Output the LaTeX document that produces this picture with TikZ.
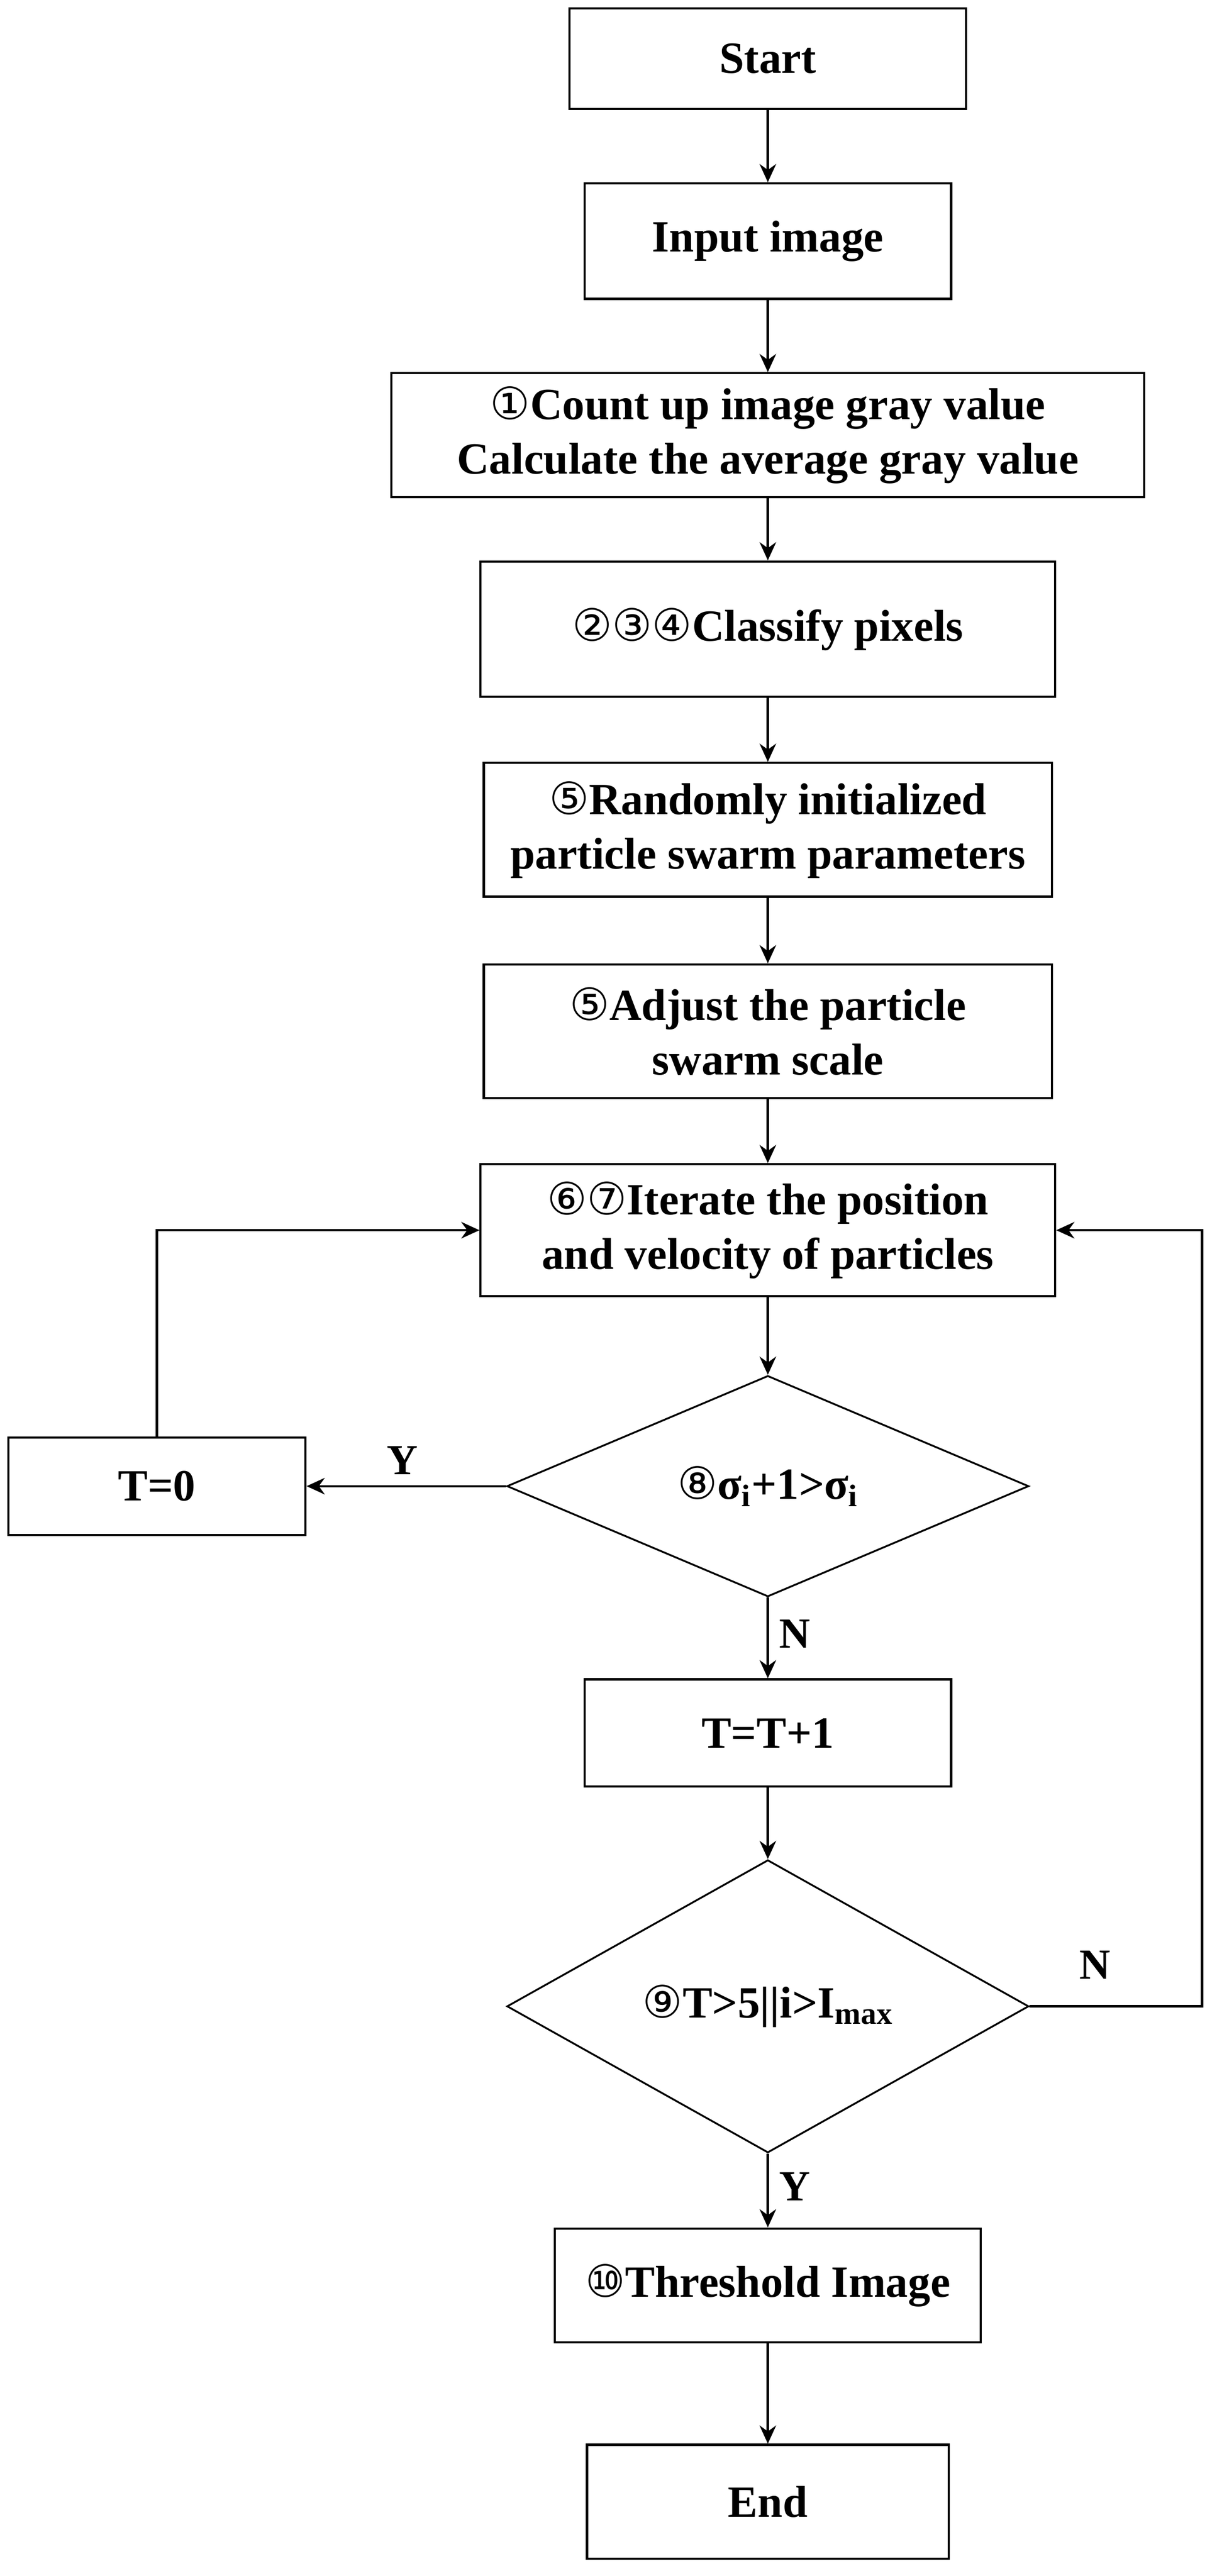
\documentclass[tikz,border=0pt]{standalone}
\usepackage{fontspec}
\setmainfont{Liberation Serif}
\newfontfamily\cfnt{DejaVu Sans}
\usetikzlibrary{shapes.geometric,arrows.meta}
\newcommand{\cn}[1]{{\cfnt\mdseries #1}}
\begin{document}
\begin{tikzpicture}[x=1pt,y=-1pt,
  every node/.style={font=\fontsize{27}{33}\selectfont\bfseries, align=center},
  box/.style={draw, line width=1.3pt, inner sep=0pt},
  dia/.style={draw, diamond, line width=1.1pt, inner sep=0pt},
  arr/.style={line width=1.4pt, -{Stealth[length=11pt,width=10pt]}},
  lbl/.style={font=\fontsize{26}{28}\selectfont\bfseries}]
\useasboundingbox (0,0) rectangle (737,1560);
\node[box, minimum width=240pt, minimum height=61pt] (start) at (465,35.5) {Start};
\node[box, minimum width=222pt, minimum height=70pt] (input) at (465,146) {Input image};
\node[box, minimum width=456pt, minimum height=75pt] (b1) at (465,263.5) {\cn{①}Count up image gray value\\Calculate the average gray value};
\node[box, minimum width=348pt, minimum height=82pt] (b2) at (465,381) {\cn{②③④}Classify pixels};
\node[box, minimum width=344pt, minimum height=81pt] (b3) at (465,502.5) {\cn{⑤}Randomly initialized\\particle swarm parameters};
\node[box, minimum width=344pt, minimum height=81pt] (b4) at (465,624.5) {\cn{⑤}Adjust the particle\\swarm scale};
\node[box, minimum width=348pt, minimum height=80pt] (b5) at (465,745) {\cn{⑥⑦}Iterate the position\\and velocity of particles};
\node[dia, minimum width=316pt, minimum height=130pt] (d8) at (465,900) {\cn{⑧}σ\textsubscript{i}+1>σ\textsubscript{i}};
\node[box, minimum width=180pt, minimum height=59pt] (t0) at (95,900) {T=0};
\node[box, minimum width=222pt, minimum height=65pt] (tt) at (465,1049.5) {T=T+1};
\node[dia, minimum width=316pt, minimum height=144pt] (d9) at (465,1215) {\cn{⑨}T>5||i>I\textsubscript{max}};
\node[box, minimum width=258pt, minimum height=69pt] (th) at (465,1384) {\cn{⑩}Threshold Image};
\node[box, minimum width=219pt, minimum height=69pt] (end) at (465,1515) {End};
\coordinate (rc) at (728,745);
\draw[arr] (start) -- (input);
\draw[arr] (input) -- (b1);
\draw[arr] (b1) -- (b2);
\draw[arr] (b2) -- (b3);
\draw[arr] (b3) -- (b4);
\draw[arr] (b4) -- (b5);
\draw[arr] (b5) -- (d8);
\draw[arr] (d8) -- node[lbl, above, pos=0.52, yshift=3pt] {Y} (t0);
\draw[arr] (t0.north) |- (b5.west);
\draw[arr] (d8) -- node[lbl, right, pos=0.45, xshift=3pt] {N} (tt);
\draw[arr] (tt) -- (d9);
\draw[arr] (d9.east) -| (rc) -- (b5.east);
\node[lbl] at (663,1190) {N};
\draw[arr] (d9) -- node[lbl, right, pos=0.45, xshift=3pt] {Y} (th);
\draw[arr] (th) -- (end);
\end{tikzpicture}
\end{document}
